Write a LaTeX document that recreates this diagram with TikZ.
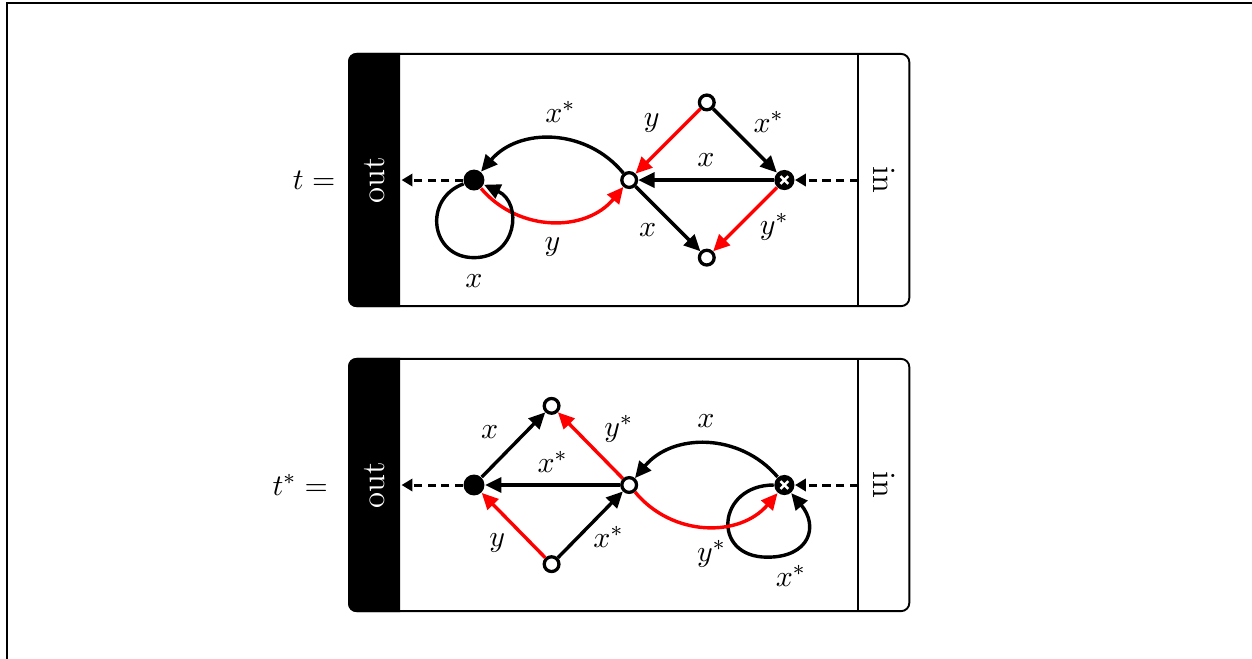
\documentclass[tikz,border=0pt]{standalone}
\usetikzlibrary{arrows.meta, positioning}

\begin{document}
\begin{tikzpicture}[
    >={Triangle[length=6pt, width=5.5pt]},
    panel/.style={draw, line width=0.7pt, rounded corners=3pt, fill=white,
                  minimum width=7.22cm, minimum height=3.25cm},
    sidetext/.style={minimum width=3.25cm, minimum height=6.7mm, inner sep=0pt, font=\large},
    fulldot/.style={circle, fill=black, minimum size=2.7mm, inner sep=0pt},
    hole/.style={circle, draw, fill=white, line width=1.2pt, minimum size=1.9mm, inner sep=0pt},
    xcirc/.style={circle, fill=black, minimum size=2.6mm, inner sep=0pt,
                  path picture={\draw[white, line width=0.9pt]
                    ([shift={(-0.5mm,-0.5mm)}]path picture bounding box.center) -- ++(1mm,1mm)
                    ([shift={(-0.5mm,0.5mm)}]path picture bounding box.center) -- ++(1mm,-1mm);}},
    arr/.style={->, line width=1.25pt},
    rarr/.style={->, line width=1.25pt, red},
    darr/.style={-{Triangle[length=4pt, width=4.5pt]}, densely dashed, line width=1.1pt},
    lbl/.style={inner sep=2.5pt, text=black, font=\fontsize{11.3}{13.5}\selectfont},
    eq/.style={font=\fontsize{11.3}{13.5}\selectfont},
]
\useasboundingbox (-6.108,2.320) rectangle (10.026,-6.160);
\fill[white] (-6.108,2.320) rectangle (10.026,-6.160);
\draw[line width=0.75pt] (-6.018,2.281) rectangle (10.6,-6.7);

% ---- top panel: t ----
\node[panel] (boxT) at (2,0) {};
\begin{scope}
  \clip (boxT.north west) rectangle ([xshift=6.7mm]boxT.south west);
  \fill[rounded corners=3pt] (boxT.north west) rectangle (boxT.south east);
\end{scope}
\node[sidetext, rotate=90, text=white] (outT) at (-1.275,0) {out};
\node[sidetext, rotate=-90] (inT) at (5.29,0) {in};
\draw[line width=0.7pt] (inT.south west) -- (inT.south east);
\node[eq] (tT) at (-2.06,0) {$t=$};

\node[fulldot] (sT) at (0,0) {};
\node[hole]    (oT) at (2,0) {};
\node[hole]    (uT) at (3,1) {};
\node[hole]    (dT) at (3,-1) {};
\node[xcirc]   (xT) at (4,0) {};
\coordinate (lpT) at (0,-1.0);

\draw[arr] (oT) to[bend right=50, looseness=1.05] node[lbl, above, pos=0.45, yshift=3pt]{$x^*$} (sT);
\draw[rarr] (sT) to[bend right=50, looseness=1.05] node[lbl, below, yshift=-3pt]{$y$} (oT);
\draw[arr] (sT) to[out=-160, in=180, looseness=1.5] (lpT) node[lbl, below, yshift=-3pt]{$x$}
           to[out=0, in=-25, looseness=1.5] (sT);
\draw[rarr] (uT) -- node[lbl, above left]{$y$} (oT);
\draw[arr] (uT) -- node[lbl, above right]{$x^*$} (xT);
\draw[arr] (xT) -- node[lbl, above, yshift=2pt]{$x$} (oT);
\draw[arr] (oT) -- node[lbl, below left, pos=0.45]{$x$} (dT);
\draw[rarr] (xT) -- node[lbl, below right, pos=0.4, yshift=3pt]{$y^*$} (dT);
\draw[darr] (sT) -- (outT);
\draw[darr] (inT) -- (xT);

% ---- bottom panel: t* ----
\node[panel] (boxB) at (2,-3.93) {};
\begin{scope}
  \clip (boxB.north west) rectangle ([xshift=6.7mm]boxB.south west);
  \fill[rounded corners=3pt] (boxB.north west) rectangle (boxB.south east);
\end{scope}
\node[sidetext, rotate=90, text=white] (outB) at (-1.275,-3.93) {out};
\node[sidetext, rotate=-90] (inB) at (5.29,-3.93) {in};
\draw[line width=0.7pt] (inB.south west) -- (inB.south east);
\node[eq] (tB) at (-2.24,-3.93) {$t^*=$};

\node[fulldot] (sB) at (0,-3.93) {};
\node[hole]    (oB) at (2,-3.93) {};
\node[hole]    (uB) at (1,-2.91) {};
\node[hole]    (dB) at (1,-4.95) {};
\node[xcirc]   (xB) at (4,-3.93) {};
\coordinate (lpB) at (3.78,-4.86);

\draw[arr] (sB) -- node[lbl, above left, xshift=-2.5pt, yshift=-1pt]{$x$} (uB);
\draw[rarr] (oB) -- node[lbl, above right, xshift=2pt, yshift=-2pt]{$y^*$} (uB);
\draw[arr] (oB) -- node[lbl, above, yshift=1.5pt]{$x^*$} (sB);
\draw[rarr] (dB) -- node[lbl, below left]{$y$} (sB);
\draw[arr] (dB) -- node[lbl, below right, xshift=-2pt, yshift=2.5pt]{$x^*$} (oB);
\draw[arr] (xB) to[bend right=50, looseness=1.05] node[lbl, above, yshift=3pt]{$x$} (oB);
\draw[arr] (xB) to[out=180, in=180, looseness=2] (lpB) node[lbl, below right]{$x^*$}
           to[out=0, in=-50, looseness=1.6] (xB);
\draw[rarr] (oB) to[bend right=50, looseness=1.05] node[lbl, below, xshift=2pt, yshift=-2pt]{$y^*$} (xB);
\draw[darr] (sB) -- (outB);
\draw[darr] (inB) -- (xB);
\end{tikzpicture}
\end{document}
